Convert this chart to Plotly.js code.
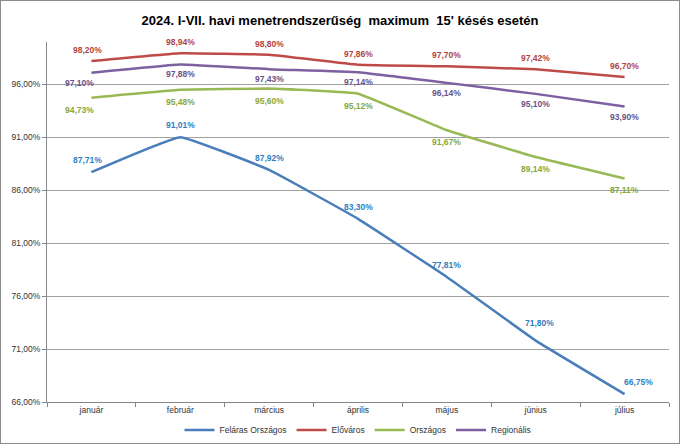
<!DOCTYPE html>
<html><head><meta charset="utf-8">
<script src="https://cdn.plot.ly/plotly-3.0.1.min.js"></script>
<style>
html,body{margin:0;padding:0;background:#fff;}
#chart{width:680px;height:444px;box-sizing:border-box;border:1px solid #8c8c8c;}
</style></head>
<body><div id="chart"></div>
<script>
const months = ["január","február","március","április","május","június","július"];
const felaras = [87.71, 91.01, 87.92, 83.30, 77.81, 71.80, 66.75];
const elovaros = [98.20, 98.94, 98.80, 97.86, 97.70, 97.42, 96.70];
const orszagos = [94.73, 95.48, 95.60, 95.12, 91.67, 89.14, 87.11];
const regionalis = [97.10, 97.88, 97.43, 97.14, 96.14, 95.10, 93.90];
const seriesNames = ["Feláras Országos","Előváros","Országos","Regionális"];
const yTicks = [66, 71, 76, 81, 86, 91, 96];

const FONT = 'Liberation Sans, Arial, sans-serif';
function fmt(v){ return v.toFixed(2).replace('.', ',') + '%'; }

const specs = [
  {name:seriesNames[0], y:felaras, color:'#4a7ebb', label:'#2f7fc1', shift:12,
   dy:[0,0,0,0,0,6,0], dx:[-4,0,0,0,0,4,14]},
  {name:seriesNames[1], y:elovaros, color:'#be4b48', label:'#b2433f', shift:11,
   dy:[0,0,0,0,0,0,0], dx:[-4,0,0,0,0,0,0]},
  {name:seriesNames[2], y:orszagos, color:'#98b954', label:'#86a83d', shift:-12,
   dy:[0,0,0,0,0,0,0], dx:[-12,0,0,0,0,0,0]},
  {name:seriesNames[3], y:regionalis, color:'#7d60a0', label:'#6a5288', shift:-10,
   dy:[0,0,0,0,0,0,0], dx:[-12,0,0,0,0,0,0]}
];
const data = specs.map(s => ({
  type:'scatter', mode:'lines', name:s.name, x:months, y:s.y,
  line:{color:s.color, width:2.5, shape:'spline', smoothing:0.25},
  hoverinfo:'skip'
}));
const annotations = [];
specs.forEach(s => {
  s.y.forEach((v, i) => {
    annotations.push({
      x:months[i], y:v, xref:'x', yref:'y', text:'<b>' + fmt(v) + '</b>', showarrow:false,
      yshift:s.shift + s.dy[i], xshift:s.dx[i],
      font:{family:FONT, size:8.5, color:s.label}
    });
  });
});
const layout = {
  width:678, height:442,
  margin:{l:46, r:10, t:41, b:41, autoexpand:false},
  paper_bgcolor:'#fff', plot_bgcolor:'#fff',
  font:{family:FONT, size:8.5, color:'#333'},
  title:{text:"<b>2024. I-VII. havi menetrendszerűség  maximum  15' késés esetén</b>", x:0.5, xanchor:'center', y:0.955, yanchor:'middle',
    font:{family:FONT, size:13, color:'#000'}},
  xaxis:{type:'category', tickson:'boundaries', ticks:'outside', ticklen:4, tickcolor:'#868686',
    showline:true, linecolor:'#868686', linewidth:1, showgrid:false,
    tickfont:{size:8.5, color:'#333'}, range:[-0.5,6.5], fixedrange:true},
  yaxis:{range:[66,100], tickmode:'array', tickvals:yTicks, ticktext:yTicks.map(fmt),
    ticks:'outside', ticklen:4, tickcolor:'#868686',
    showline:true, linecolor:'#868686', linewidth:1,
    showgrid:true, gridcolor:'#a0a0a0', gridwidth:1, zeroline:false,
    tickfont:{size:8.5, color:'#333'}, fixedrange:true},
  annotations:annotations,
  showlegend:true,
  legend:{orientation:'h', x:0.5, xanchor:'center', y:-0.078, yanchor:'middle',
    font:{size:8.5, color:'#333'}, tracegroupgap:0, bgcolor:'rgba(0,0,0,0)'}
};
Plotly.newPlot('chart', data, layout, {displayModeBar:false, staticPlot:true});
</script></body></html>
